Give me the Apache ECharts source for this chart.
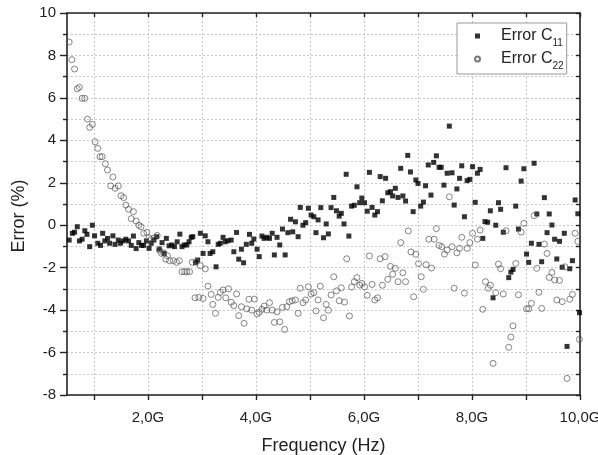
<!DOCTYPE html>
<html><head><meta charset="utf-8">
<script src="https://cdn.jsdelivr.net/npm/echarts@6/dist/echarts.min.js"></script>
<style>html,body{margin:0;padding:0;background:#fff}#c{width:598px;height:455px}</style>
</head><body><div id="c"></div>
<script>
// Error C11 (filled squares): frequency in GHz, error in %
const c11Freq = [0.54,0.60,0.64,0.69,0.73,0.78,0.83,0.87,0.92,0.97,1.01,1.07,1.12,1.16,1.20,1.25,1.29,1.35,1.39,1.45,1.49,1.54,1.59,1.64,1.69,1.73,1.78,1.83,1.88,1.92,1.97,2.02,2.06,2.11,2.16,2.21,2.26,2.30,2.34,2.39,2.44,2.49,2.54,2.59,2.63,2.67,2.72,2.76,2.80,2.83,2.88,2.92,2.97,3.02,3.06,3.11,3.15,3.20,3.26,3.30,3.34,3.39,3.43,3.48,3.54,3.59,3.64,3.68,3.73,3.77,3.82,3.88,3.92,3.96,4.02,4.06,4.11,4.15,4.20,4.25,4.30,4.34,4.39,4.44,4.49,4.54,4.59,4.64,4.68,4.73,4.78,4.82,4.87,4.92,4.97,5.02,5.07,5.11,5.15,5.20,5.25,5.30,5.34,5.39,5.44,5.49,5.54,5.58,5.63,5.67,5.72,5.77,5.82,5.87,5.92,5.96,6.01,6.06,6.10,6.15,6.20,6.25,6.30,6.34,6.40,6.44,6.49,6.53,6.58,6.63,6.68,6.72,6.77,6.81,6.86,6.91,6.96,7.00,7.05,7.10,7.14,7.19,7.24,7.29,7.34,7.39,7.43,7.48,7.54,7.58,7.63,7.67,7.72,7.77,7.81,7.86,7.91,7.96,8.01,8.06,8.10,8.15,8.20,8.24,8.29,8.34,8.39,8.44,8.49,8.53,8.58,8.63,8.68,8.72,8.76,8.81,8.86,8.91,8.96,9.01,9.05,9.10,9.15,9.20,9.24,9.29,9.34,9.39,9.43,9.48,9.53,9.57,9.62,9.67,9.71,9.76,9.81,9.86,9.91,9.96,9.99];
const c11Err = [-0.70,-0.38,-0.33,-0.07,-0.74,-0.66,-0.26,-0.43,-1.01,0.00,-0.50,-0.85,-0.95,-0.38,-0.74,-0.62,-0.85,-0.50,-0.90,-0.70,-0.85,-0.74,-0.66,-0.74,-0.95,-0.51,-1.10,-0.82,-0.95,-0.95,-0.74,-1.09,-0.85,-0.70,-0.54,-1.12,-0.82,-1.33,-0.62,-0.97,-0.93,-1.01,-0.78,-0.42,-1.01,-0.93,-0.93,-0.78,-0.57,-0.54,-1.77,-1.64,-0.38,-1.33,-0.50,-0.78,-1.33,-1.25,-1.96,-0.90,-0.85,-0.57,-0.78,-0.73,-0.70,-1.25,-0.34,-1.60,-1.13,-1.77,-0.90,-0.43,-0.85,-0.65,-1.13,-1.48,-0.51,-0.62,-0.57,-0.62,-0.38,-1.40,-0.57,-0.93,-0.18,-1.40,-0.35,0.28,-0.31,0.16,-0.54,0.84,0.00,0.12,0.80,0.48,0.40,-0.35,0.25,0.83,-0.59,0.06,-0.41,0.83,1.31,0.68,0.43,0.56,0.06,2.40,-0.51,0.90,0.94,1.81,1.06,1.28,1.06,0.66,2.49,0.84,0.48,0.64,2.29,1.15,2.21,1.53,1.58,1.38,1.74,1.31,2.68,1.38,1.14,3.29,2.51,0.64,2.13,1.97,0.90,1.09,1.86,2.84,1.42,2.96,3.27,2.73,2.73,1.89,2.45,4.67,2.47,0.95,1.71,2.21,2.80,0.40,2.10,2.16,2.76,1.08,2.45,2.63,-0.62,0.17,0.14,0.68,-3.42,0.00,1.06,0.75,-0.33,2.71,-2.47,-2.21,-2.08,0.90,-0.18,2.08,2.66,-1.36,-1.75,-0.85,2.92,0.53,-0.90,-1.72,1.30,-0.35,0.53,0.01,-0.66,-1.59,-0.76,-1.98,-0.38,-5.71,-2.05,-1.67,1.19,0.54,-4.12];

// Error C22 (open circles): frequency in GHz, error in %
const c22Freq = [0.54,0.59,0.64,0.69,0.73,0.78,0.83,0.88,0.92,0.97,1.02,1.07,1.11,1.15,1.21,1.25,1.31,1.35,1.39,1.45,1.50,1.55,1.59,1.64,1.69,1.73,1.78,1.83,1.87,1.92,1.98,2.02,2.06,2.11,2.17,2.21,2.25,2.29,2.33,2.36,2.40,2.47,2.53,2.58,2.63,2.68,2.72,2.77,2.82,2.87,2.89,2.94,2.97,3.02,3.06,3.11,3.17,3.20,3.25,3.30,3.34,3.39,3.44,3.49,3.54,3.59,3.64,3.68,3.73,3.78,3.83,3.87,3.92,3.97,4.02,4.06,4.11,4.15,4.20,4.25,4.30,4.34,4.39,4.44,4.49,4.53,4.57,4.62,4.67,4.73,4.78,4.82,4.87,4.92,4.97,5.02,5.07,5.11,5.15,5.19,5.25,5.30,5.34,5.39,5.44,5.49,5.54,5.58,5.64,5.68,5.73,5.77,5.82,5.87,5.92,5.96,6.01,6.06,6.10,6.15,6.20,6.25,6.30,6.34,6.39,6.44,6.49,6.53,6.58,6.63,6.68,6.72,6.77,6.82,6.87,6.92,6.96,7.01,7.06,7.10,7.15,7.20,7.25,7.30,7.34,7.39,7.44,7.49,7.54,7.58,7.63,7.67,7.72,7.77,7.81,7.86,7.91,7.96,8.01,8.06,8.10,8.15,8.20,8.25,8.30,8.34,8.39,8.44,8.49,8.53,8.58,8.63,8.68,8.72,8.76,8.81,8.86,8.91,8.96,9.01,9.05,9.10,9.15,9.20,9.24,9.29,9.34,9.39,9.43,9.48,9.53,9.57,9.62,9.67,9.72,9.76,9.81,9.86,9.91,9.96,9.99];
const c22Err = [8.63,7.80,7.36,6.43,6.50,5.98,5.98,5.00,4.61,4.75,3.93,3.62,3.23,3.23,2.90,2.60,1.85,2.27,1.74,1.85,1.39,1.30,0.95,0.75,0.31,0.64,0.20,0.00,-0.07,-0.38,-0.33,-0.60,-0.68,-0.60,-0.48,-1.17,-1.33,-1.30,-1.60,-1.44,-1.67,-1.67,-1.75,-1.67,-2.19,-2.19,-2.19,-2.19,-1.75,-3.42,-1.72,-3.40,-1.91,-3.45,-2.06,-2.87,-3.26,-3.73,-4.15,-3.40,-3.16,-3.05,-3.42,-3.00,-3.63,-3.79,-3.24,-4.26,-3.84,-4.62,-3.94,-3.49,-4.00,-3.48,-4.18,-4.10,-3.96,-3.81,-4.00,-3.65,-4.00,-4.58,-4.08,-4.55,-3.87,-4.91,-3.84,-3.60,-3.56,-3.52,-4.15,-2.97,-3.65,-3.52,-2.90,-3.24,-3.18,-4.04,-3.52,-2.87,-4.36,-3.73,-4.01,-3.29,-2.43,-3.09,-3.56,-2.95,-3.62,-1.58,-4.28,-2.91,-2.66,-2.47,-2.82,-2.74,-2.90,-3.30,-1.45,-2.79,-3.52,-3.42,-1.58,-2.83,-1.48,-2.55,-1.94,-2.31,-2.03,-2.66,-0.82,-2.24,-2.66,-0.27,-1.26,-3.37,-1.37,-1.81,-2.43,-3.02,-1.86,-0.66,-2.02,-0.66,-0.16,-0.95,-1.01,-1.36,-1.17,1.34,-1.01,-2.97,-1.30,-1.09,-0.57,-3.20,-1.09,-0.82,-0.38,-1.88,-0.66,-0.23,-3.96,-2.66,-2.97,-2.83,-6.51,-3.18,-1.83,-2.05,-3.24,-0.26,-5.75,-5.27,-4.74,-1.80,-3.28,-0.32,0.09,-3.94,-3.94,-3.68,0.45,-2.03,-3.16,-3.92,-0.89,-1.33,-2.46,-2.22,-2.58,-3.52,-2.60,-3.60,-1.96,-7.22,-3.49,-3.26,-0.38,-0.76,-5.38];

const xTickValues = [1,2,3,4,5,6,7,8,9,10];
const xLabelValues = [2,4,6,8,10];
const seriesNames = ['Error C11','Error C22'];

const FONT = '"Liberation Sans", Arial, sans-serif';
const AX = '#222';
const GRIDC = '#c8c8c8';

const chart = echarts.init(document.getElementById('c'), null, {renderer:'canvas'});
const xCommon = {type:'value', min:0.5, max:10};
const yCommon = {type:'value', min:-8, max:10, interval:2};
chart.setOption({
  animation:false,
  backgroundColor:'#fff',
  grid:{left:67, right:18, top:13, bottom:60, containLabel:false, outerBoundsMode:'none'},
  legend:{
    orient:'vertical', left:457, top:23,
    padding:[5,3,3,17], itemGap:3, itemWidth:5, itemHeight:5,
    borderColor:'#999', borderWidth:1, backgroundColor:'#fff',
    data:seriesNames,
    formatter: n => '{gap|}' + n.replace(/C(\d+)$/, 'C{sub|$1}'),
    textStyle:{fontSize:16, fontFamily:FONT, color:AX,
      rich:{
        gap:{width:16},
        sub:{fontSize:10, fontFamily:FONT, color:AX, padding:[14,0,0,0]}
      }}
  },
  xAxis:[
    Object.assign({}, xCommon, {
      position:'bottom',
      name:'Frequency (Hz)', nameLocation:'middle', nameGap:42,
      nameTextStyle:{fontSize:18, fontFamily:FONT, color:AX},
      axisLine:{show:true, onZero:false, lineStyle:{color:AX, width:1.6}},
      axisTick:{show:true, inside:false, length:5, customValues:xTickValues, lineStyle:{color:AX, width:1.4}},
      axisLabel:{customValues:xLabelValues, fontSize:15, fontFamily:FONT, color:AX, margin:15,
        formatter: v => v.toFixed(1).replace('.', ',') + 'G'},
      splitLine:{show:true, lineStyle:{color:GRIDC, width:1, type:[2,2]}}
    }),
    Object.assign({}, xCommon, {
      position:'top',
      axisLine:{show:true, onZero:false, lineStyle:{color:AX, width:1.6}},
      axisTick:{show:true, inside:true, length:4, customValues:xTickValues, lineStyle:{color:AX, width:1.4}},
      axisLabel:{show:false},
      splitLine:{show:false}
    })
  ],
  yAxis:[
    Object.assign({}, yCommon, {
      position:'left',
      name:'Error (%)', nameLocation:'middle', nameGap:37,
      nameTextStyle:{fontSize:18, fontFamily:FONT, color:AX, padding:[0,24,0,0]},
      axisLine:{show:true, onZero:false, lineStyle:{color:AX, width:1.6}},
      axisTick:{show:true, inside:false, length:7, lineStyle:{color:AX, width:1.4}},
      minorTick:{show:true, splitNumber:2, length:4, lineStyle:{color:AX, width:1.4}},
      axisLabel:{fontSize:15, fontFamily:FONT, color:AX, margin:11},
      splitLine:{show:true, lineStyle:{color:GRIDC, width:1, type:[2,2]}},
      minorSplitLine:{show:true, lineStyle:{color:GRIDC, width:1, type:[2,2]}}
    }),
    Object.assign({}, yCommon, {
      position:'right',
      axisLine:{show:true, onZero:false, lineStyle:{color:AX, width:1.6}},
      axisTick:{show:true, inside:true, length:4, lineStyle:{color:AX, width:1.4}},
      minorTick:{show:true, splitNumber:2, length:4, lineStyle:{color:AX, width:1.4}},
      axisLabel:{show:false},
      splitLine:{show:false}
    })
  ],
  series:[
    {name:seriesNames[0], type:'scatter', xAxisIndex:0, yAxisIndex:0,
     symbol:'rect', symbolSize:5,
     itemStyle:{color:'#000'},
     data:c11Freq.map((f,i)=>[f, c11Err[i]])},
    {name:seriesNames[1], type:'scatter', xAxisIndex:0, yAxisIndex:0,
     symbol:'circle', symbolSize:6,
     itemStyle:{color:'rgba(255,255,255,0)', borderColor:'#555', borderWidth:0.9},
     data:c22Freq.map((f,i)=>[f, c22Err[i]])}
  ]
});
</script>
</body></html>
